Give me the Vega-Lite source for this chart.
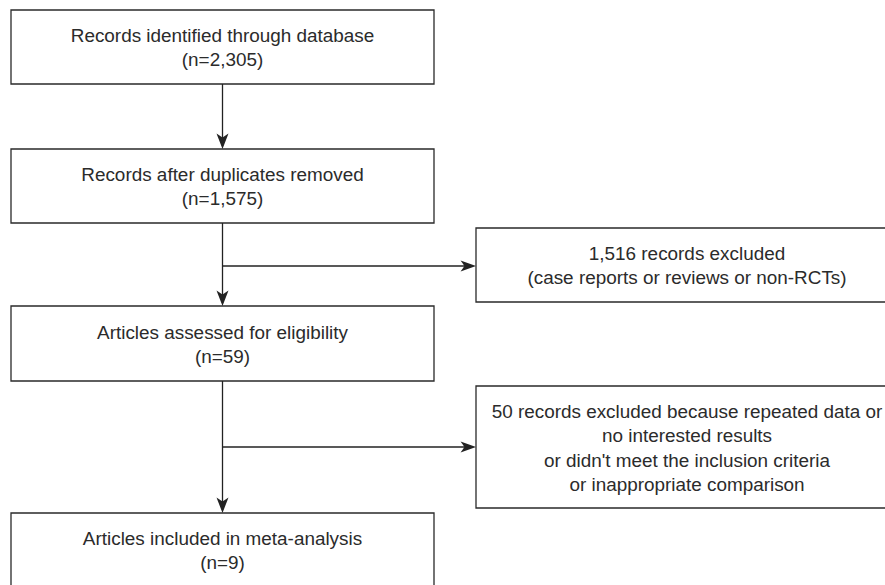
{
  "$schema": "https://vega.github.io/schema/vega-lite/v6.json",
  "width": 885,
  "height": 585,
  "padding": 0,
  "autosize": {"type": "fit", "contains": "padding"},
  "background": "white",
  "config": {"view": {"stroke": null}},
  "layer": [
    {
      "data": {"values": [
        {"x0": 11, "x1": 434, "y0": 10, "y1": 84},
        {"x0": 11, "x1": 434, "y0": 149, "y1": 223},
        {"x0": 11, "x1": 434, "y0": 306, "y1": 381},
        {"x0": 11, "x1": 434, "y0": 513, "y1": 600},
        {"x0": 476, "x1": 900, "y0": 228, "y1": 302},
        {"x0": 476, "x1": 900, "y0": 386, "y1": 508}
      ]},
      "mark": {"type": "rect", "fill": "white", "stroke": "#2a2a2a", "strokeWidth": 1.3, "clip": true},
      "encoding": {
        "x": {"field": "x0", "type": "quantitative", "scale": {"domain": [0, 885]}, "axis": null},
        "x2": {"field": "x1"},
        "y": {"field": "y0", "type": "quantitative", "scale": {"domain": [0, 585], "reverse": true}, "axis": null},
        "y2": {"field": "y1"}
      }
    },
    {
      "data": {"values": [
        {"x0": 222.5, "x1": 222.5, "y0": 84, "y1": 146},
        {"x0": 222.5, "x1": 222.5, "y0": 223, "y1": 303},
        {"x0": 222.5, "x1": 473, "y0": 266, "y1": 266},
        {"x0": 222.5, "x1": 222.5, "y0": 381, "y1": 510},
        {"x0": 222.5, "x1": 473, "y0": 447, "y1": 447}
      ]},
      "mark": {"type": "rule", "stroke": "#222222", "strokeWidth": 1.3},
      "encoding": {
        "x": {"field": "x0", "type": "quantitative", "scale": {"domain": [0, 885]}, "axis": null},
        "x2": {"field": "x1"},
        "y": {"field": "y0", "type": "quantitative", "scale": {"domain": [0, 585], "reverse": true}, "axis": null},
        "y2": {"field": "y1"}
      }
    },
    {
      "data": {"values": [
        {"x": 222.5, "y": 149},
        {"x": 222.5, "y": 306},
        {"x": 222.5, "y": 513}
      ]},
      "mark": {"type": "point", "filled": true, "color": "#222222", "opacity": 1, "size": 144, "shape": "M0,0 L-1,-2.6 L0,-1.9 L1,-2.6 Z"},
      "encoding": {
        "x": {"field": "x", "type": "quantitative", "scale": {"domain": [0, 885]}, "axis": null},
        "y": {"field": "y", "type": "quantitative", "scale": {"domain": [0, 585], "reverse": true}, "axis": null}
      }
    },
    {
      "data": {"values": [
        {"x": 476, "y": 266},
        {"x": 476, "y": 447}
      ]},
      "mark": {"type": "point", "filled": true, "color": "#222222", "opacity": 1, "size": 121, "shape": "M0,0 L-2.8,-1 L-2.1,0 L-2.8,1 Z"},
      "encoding": {
        "x": {"field": "x", "type": "quantitative", "scale": {"domain": [0, 885]}, "axis": null},
        "y": {"field": "y", "type": "quantitative", "scale": {"domain": [0, 585], "reverse": true}, "axis": null}
      }
    },
    {
      "data": {"values": [
        {"x": 222.5, "y": 36, "label": "Records identified through database\n(n=2,305)"},
        {"x": 222.5, "y": 175, "label": "Records after duplicates removed\n(n=1,575)"},
        {"x": 222.5, "y": 333, "label": "Articles assessed for eligibility\n(n=59)"},
        {"x": 222.5, "y": 539, "label": "Articles included in meta-analysis\n(n=9)"},
        {"x": 687, "y": 254, "label": "1,516 records excluded\n(case reports or reviews or non-RCTs)"},
        {"x": 687, "y": 412, "label": "50 records excluded because repeated data or\nno interested results\nor didn't meet the inclusion criteria\nor inappropriate comparison"}
      ]},
      "mark": {"type": "text", "font": "Liberation Sans", "fontSize": 18.9, "color": "#2b2b2b", "align": "center", "baseline": "middle", "lineBreak": "\n", "lineHeight": 24.3},
      "encoding": {
        "x": {"field": "x", "type": "quantitative", "scale": {"domain": [0, 885]}, "axis": null},
        "y": {"field": "y", "type": "quantitative", "scale": {"domain": [0, 585], "reverse": true}, "axis": null},
        "text": {"field": "label"}
      }
    }
  ]
}
